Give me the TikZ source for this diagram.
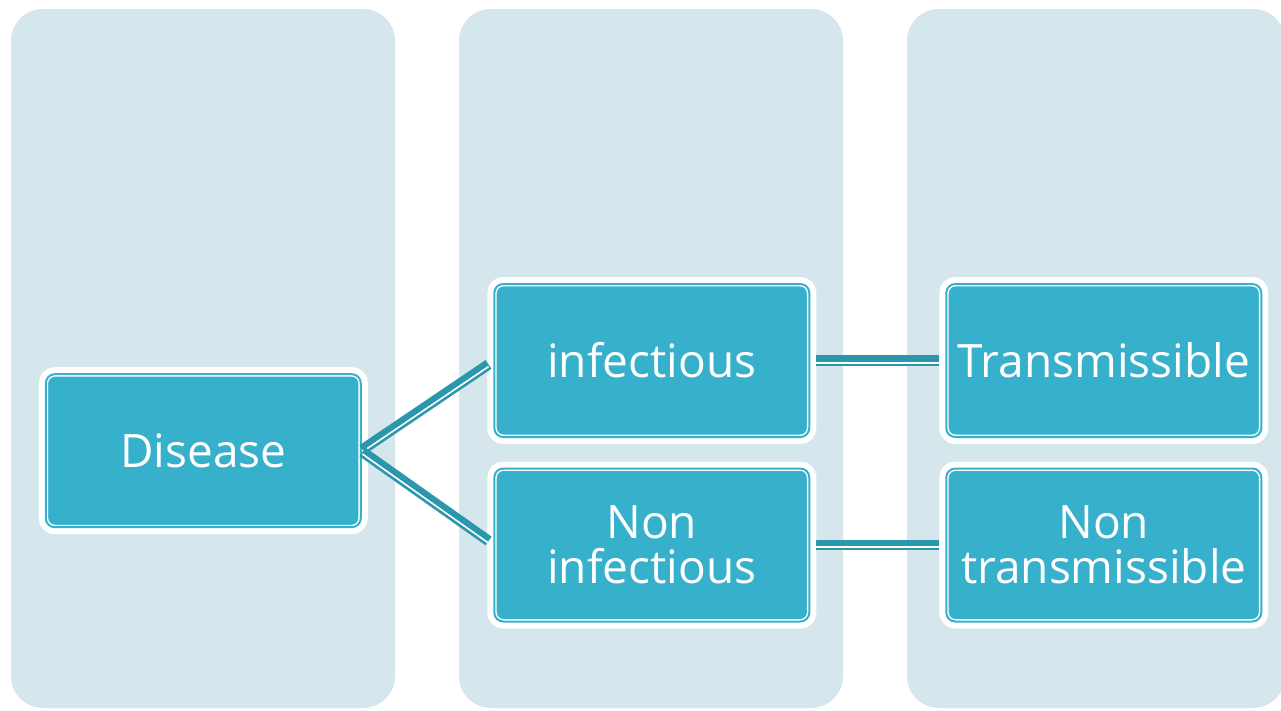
\documentclass[tikz,border=0pt]{standalone}
\usepackage{fontspec}
\newfontfamily\boxfont{Open Sans}
\usepackage{tikz}
\usetikzlibrary{positioning}
\definecolor{lanebg}{HTML}{D5E6EC}
\definecolor{boxteal}{HTML}{36B0CB}
\definecolor{linkteal}{HTML}{2A97AD}

\begin{document}
\begin{tikzpicture}[
            x=1pt, y=-1pt,
            font=\boxfont\fontsize{46}{45}\selectfont,
            lane/.style={fill=lanebg, rounded corners=32pt,
            minimum width=384pt, minimum height=699pt,
            inner sep=0pt, outer sep=0pt},
            box/.style={fill=boxteal, draw=white, line width=4.8pt,
            rounded corners=9pt, minimum width=315pt, minimum height=153pt,
            inner sep=0pt, outer sep=0pt, align=center, text=white,
            preaction={draw=white, line width=14pt},
            postaction={draw=boxteal, line width=2pt}},
            link/.style={draw=linkteal, line width=10.6pt},
            gap/.style={draw=white, line width=1.6pt,
            transform canvas={yshift=-2.2pt}}
        ]
            \clip (0,0) rectangle (1281,710);
            \fill[white] (0,0) rectangle (1281,710);
% background lanes
            \node[lane]                                 (laneA) at (203,358.5) {};
            \node[lane]                                 (laneB) at (651,358.5) {};
            \node[lane, minimum width=378pt]            (laneC) at (1096,358.5) {};
% left: root
            \node[box]                                  (dis)  at (203.3,450.7) {Disease};
% middle column
            \node[box]                                  (inf)  at (651.8,360.5) {infectious};
            \node[box, below=31.5pt of inf]             (non)  {Non\\infectious};
% right column
            \node[box, right=137pt of inf]              (tra)  {Transmissible};
            \node[box, right=137pt of non]              (ntr)  {Non\\transmissible};
% root fan-out
            \draw[link, shorten <=2pt, shorten >=7pt] (dis.east) -- (inf.west);
            \draw[gap, shorten <=2pt, shorten >=7pt]  (dis.east) -- (inf.west);
            \draw[link, shorten <=2pt, shorten >=7pt] (dis.east) -- (non.west);
            \draw[gap, shorten <=2pt, shorten >=7pt]  (dis.east) -- (non.west);
% middle to right
            \draw[link, shorten <=7pt, shorten >=7pt] (inf.east) -- (tra.west);
            \draw[gap, shorten <=7pt, shorten >=7pt]  (inf.east) -- (tra.west);
            \draw[link, shorten <=7pt, shorten >=7pt] (non.east) -- (ntr.west);
            \draw[gap, shorten <=7pt, shorten >=7pt]  (non.east) -- (ntr.west);
        \end{tikzpicture}
\end{document}
